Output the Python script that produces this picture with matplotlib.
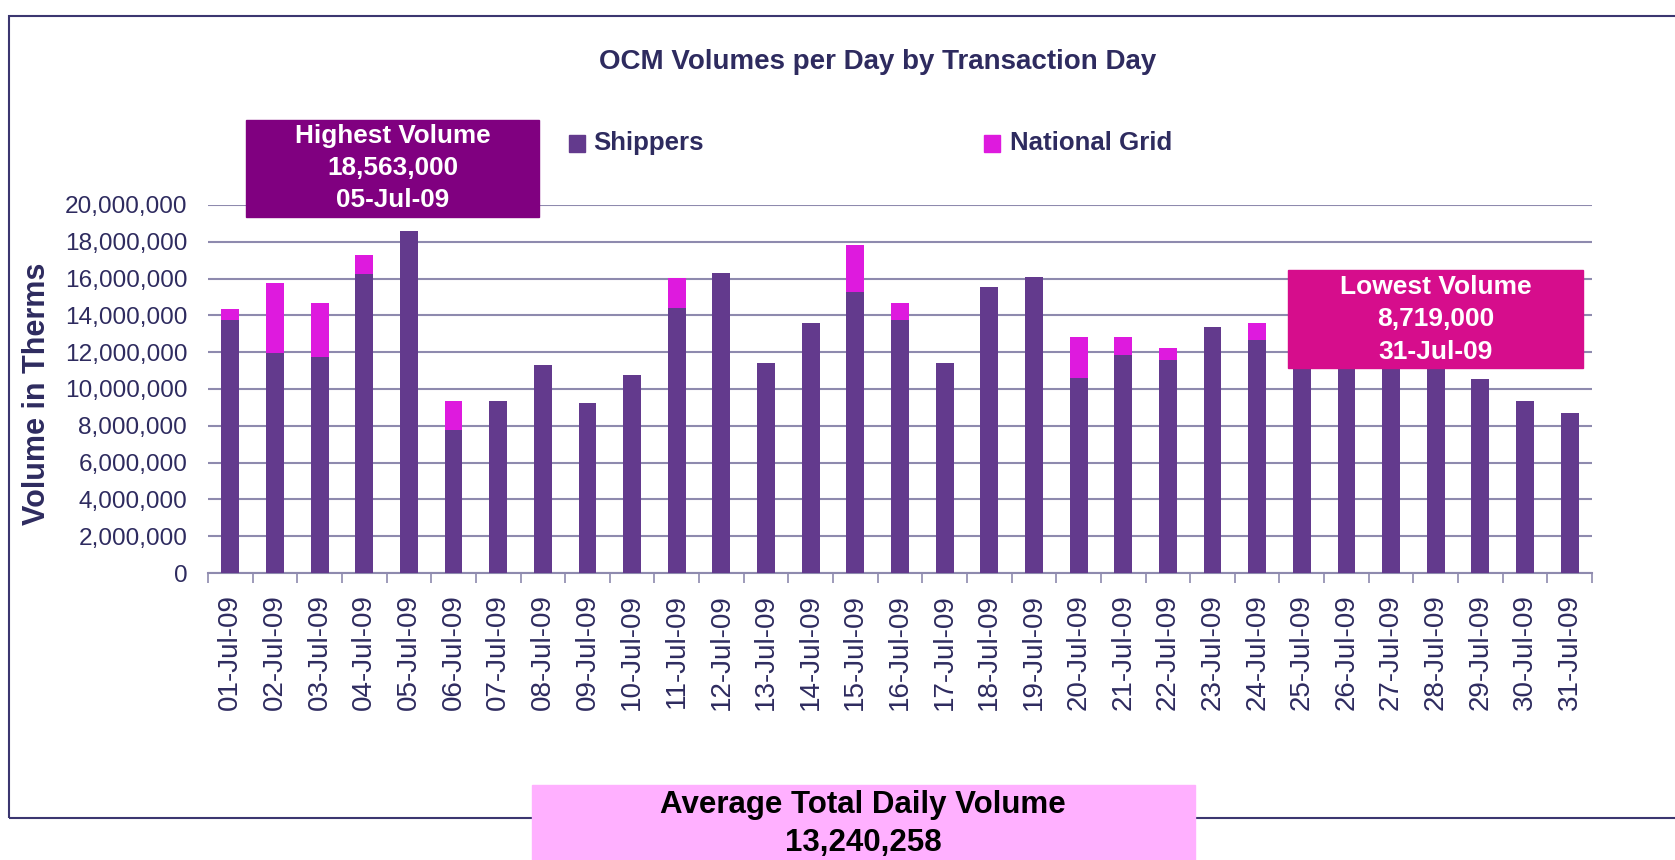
import matplotlib
matplotlib.use("Agg")
import matplotlib.pyplot as plt
from matplotlib.patches import Rectangle

plt.rcParams['font.family'] = ['Liberation Sans', 'DejaVu Sans']

days = [f"{d:02d}-Jul-09" for d in range(1, 32)]
shippers = [13.73, 11.98, 11.76, 16.24, 18.563, 7.78, 9.36, 11.33, 9.25, 10.78,
            14.38, 16.29, 11.44, 13.56, 15.25, 13.73, 11.44, 15.53, 16.07, 10.62,
            11.87, 11.55, 13.35, 12.64, 13.0, 13.9, 13.3, 13.3, 10.56, 9.36, 8.719]
totals = [14.33, 15.75, 14.65, 17.27, 18.563, 9.36, 9.36, 11.33, 9.25, 10.78,
          16.04, 16.29, 11.44, 13.56, 17.82, 14.65, 11.44, 15.53, 16.07, 12.85,
          12.80, 12.25, 13.35, 13.56, 13.0, 13.9, 13.3, 13.3, 10.56, 9.36, 8.719]
shippers = [v * 1e6 for v in shippers]
national_grid = [t * 1e6 - s for t, s in zip(totals, shippers)]
yticks = list(range(0, 20000001, 2000000))

title = "OCM Volumes per Day by Transaction Day"
highest_txt = ["Highest Volume", "18,563,000", "05-Jul-09"]
lowest_txt = ["Lowest Volume", "8,719,000", "31-Jul-09"]
avg_txt = ["Average Total Daily Volume", "13,240,258"]

NAVY = '#2E2B5F'
GRID = '#8E8AAE'
C_SHIP = '#633A8D'
C_NG = '#DE1ADE'

W, H = 1675, 860
fig = plt.figure(figsize=(W / 100, H / 100), dpi=100)

def fx(px):
    return px / W

def fy(py):
    return 1 - py / H

L, R, T, B = 208, 1592, 205, 573
ax = fig.add_axes([fx(L), fy(B), fx(R - L), (B - T) / H])

x = list(range(len(days)))
ax.bar(x, shippers, width=0.4, color=C_SHIP, zorder=3)
ax.bar(x, national_grid, bottom=shippers, width=0.4, color=C_NG, zorder=3)

ax.set_xlim(-0.5, len(days) - 0.5)
ax.set_ylim(0, 20000000)
ax.set_yticks(yticks)
ax.set_yticklabels([f"{v:,}" for v in yticks], fontsize=17.6, color=NAVY)
ax.tick_params(axis='y', length=0, pad=15)
ax.yaxis.grid(True, color=GRID, lw=1.5, zorder=0)
ax.set_axisbelow(True)

ax.set_xticks([i + 0.5 for i in range(-1, len(days))], minor=False)
ax.set_xticklabels([])
ax.set_xticks(x, minor=True)
ax.set_xticklabels(days, minor=True, rotation=90, fontsize=20, color=NAVY)
ax.tick_params(axis='x', which='major', length=7, color=GRID, width=1.2, direction='out')
ax.tick_params(axis='x', which='minor', length=0, pad=15)

for s in ['top', 'right', 'left']:
    ax.spines[s].set_visible(False)
ax.spines['bottom'].set_color(GRID)
ax.spines['bottom'].set_linewidth(1.5)

# outer border
fig.patches.append(Rectangle((fx(9), fy(818)), 1.2, (818 - 16) / H, transform=fig.transFigure,
                             fill=False, edgecolor='#3B3670', lw=1.5, zorder=0))

fig.text(fx(878), fy(62), title, ha='center', va='center', fontsize=20,
         fontweight='bold', color=NAVY)

fig.text(fx(37), fy(394), "Volume in Therms", rotation=90, ha='center', va='center',
         fontsize=22, fontweight='bold', color=NAVY)

# legend
fig.patches.append(Rectangle((fx(569), fy(152)), fx(16), 17 / H, transform=fig.transFigure,
                             color=C_SHIP, zorder=5))
fig.text(fx(593), fy(143), "Shippers", ha='left', va='center', fontsize=18.6,
         fontweight='bold', color=NAVY)
fig.patches.append(Rectangle((fx(984), fy(152)), fx(16), 17 / H, transform=fig.transFigure,
                             color=C_NG, zorder=5))
fig.text(fx(1010), fy(143), "National Grid", ha='left', va='center', fontsize=18.6,
         fontweight='bold', color=NAVY)

# highest box
fig.patches.append(Rectangle((fx(246), fy(217)), fx(293), 97 / H, transform=fig.transFigure,
                             color='#800080', zorder=5))
for txt, yy in zip(highest_txt, [136, 168, 200]):
    fig.text(fx(392.5), fy(yy), txt, ha='center', va='center', fontsize=18.8,
             fontweight='bold', color='white', zorder=6)

# lowest box
fig.patches.append(Rectangle((fx(1288), fy(368)), fx(295), 98 / H, transform=fig.transFigure,
                             color='#D60D8C', zorder=5))
for txt, yy in zip(lowest_txt, [287, 319, 352]):
    fig.text(fx(1435.5), fy(yy), txt, ha='center', va='center', fontsize=19,
             fontweight='bold', color='white', zorder=6)

# average box
fig.patches.append(Rectangle((fx(532), fy(870)), fx(663), 85 / H, transform=fig.transFigure,
                             color='#FFB0FF', zorder=5))
for txt, yy in zip(avg_txt, [805, 843]):
    fig.text(fx(863), fy(yy), txt, ha='center', va='center', fontsize=22.5,
             fontweight='bold', color='black', zorder=6)

fig.savefig("out.png", dpi=100)
